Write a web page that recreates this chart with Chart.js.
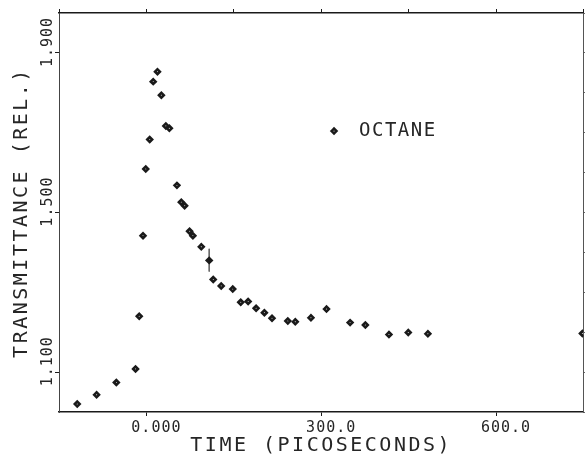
<!DOCTYPE html>
<html><head><meta charset="utf-8">
<script src="https://cdn.jsdelivr.net/npm/chart.js@4"></script>
<style>html,body{margin:0;padding:0;background:#fff;overflow:hidden;}#wrap{width:585px;height:454px;overflow:hidden;}</style>
</head><body><div id="wrap"><canvas id="c" width="590" height="454"></canvas></div>
<script>
// ---- data ----
const timePs = [-118.7, -85.5, -51.6, -18.6, -12.3, -5.8, -1.1, 5.7, 11.7, 19.0,
  25.7, 33.4, 39.4, 52.4, 59.9, 65.6, 74.1, 79.8, 94.2, 107.8,
  114.7, 128.4, 148.2, 161.9, 174.6, 188.3, 202.5, 215.6, 242.7, 255.5,
  282.4, 309.1, 349.6, 375.8, 416.3, 449.4, 483.1, 748.3];
const transmittance = [1.020, 1.043, 1.074, 1.108, 1.240, 1.442, 1.609, 1.683, 1.828, 1.853,
  1.794, 1.717, 1.711, 1.568, 1.526, 1.517, 1.453, 1.442, 1.414, 1.380,
  1.332, 1.316, 1.308, 1.275, 1.277, 1.260, 1.249, 1.235, 1.228, 1.226,
  1.236, 1.258, 1.224, 1.218, 1.194, 1.199, 1.196, 1.197];
const errorBarTime = [107.8, 107.8];
const errorBarValue = [1.409, 1.352];
const xTickValues = [0, 300, 600];
const xTickLabels = ['0.000', '300.0', '600.0'];
const yTickValues = [1.1, 1.5, 1.9];
const yTickLabels = ['1.100', '1.500', '1.900'];
const seriesName = 'OCTANE';
const xTitle = 'TIME (PICOSECONDS)';
const yTitle = 'TRANSMITTANCE (REL.)';
const legendAnchor = {x: 322, y: 1.704};

// ---- drawing ----
const FONT = '"DejaVu Sans Mono", monospace';
const INK = '#1a1a1a';
const TEXT = '#262626';
Chart.defaults.font.family = FONT;
Chart.defaults.color = TEXT;

// plotter lettering is widely spaced: letter spacing per element
const spacingPlugin = {
  id: 'spacing',
  beforeDraw(c) {
    c.ctx.letterSpacing = '1px';
    Object.values(c.scales).forEach(s => {
      if (s._spacingPatched) return;
      s._spacingPatched = true;
      const t = s.drawTitle, l = s.drawLabels;
      s.drawTitle = function () { const ctx = this.ctx; ctx.save(); ctx.letterSpacing = '2.5px'; t.apply(this, arguments); ctx.restore(); };
      s.drawLabels = function () { const ctx = this.ctx; ctx.save(); ctx.letterSpacing = '1px'; l.apply(this, arguments); ctx.restore(); };
    });
  }
};
// legend drawn inside the plot, as in the reference
const insetLegend = {
  id: 'insetLegend',
  afterDraw(c) {
    const {ctx, scales: {x, y}} = c;
    const px = x.getPixelForValue(legendAnchor.x), py = y.getPixelForValue(legendAnchor.y);
    ctx.save();
    ctx.fillStyle = '#fff'; ctx.strokeStyle = INK; ctx.lineWidth = 2.6;
    Chart.helpers.drawPoint(ctx, {pointStyle: 'rectRot', radius: 2.4, borderWidth: 2.6, rotation: 0}, px, py);
    ctx.fillStyle = TEXT; ctx.font = '19px ' + FONT; ctx.letterSpacing = '1.5px';
    ctx.textAlign = 'left'; ctx.textBaseline = 'middle';
    ctx.fillText(seriesName, px + 25, py);
    ctx.restore();
  }
};

function labelFor(values, labels, v) {
  const i = values.findIndex(t => Math.abs(t - v) < 1e-6);
  return i >= 0 ? labels[i] : null;
}

const points = timePs.map((t, i) => ({x: t, y: transmittance[i]}));
const errBar = errorBarTime.map((t, i) => ({x: t, y: errorBarValue[i]}));
const pointFill = timePs.map((t, i) => i === 19 ? INK : '#fff');

new Chart(document.getElementById('c'), {
  type: 'scatter',
  data: {
    datasets: [
      {label: seriesName, data: points, pointStyle: 'rectRot', pointRadius: 2.4, pointBorderWidth: 2.6,
       pointBackgroundColor: pointFill, pointBorderColor: INK, showLine: false},
      {label: 'err', data: errBar, showLine: true, pointRadius: 0, borderColor: '#666', borderWidth: 1}
    ]
  },
  options: {
    responsive: false, animation: false, devicePixelRatio: 1,
    layout: {padding: 0},
    plugins: {legend: {display: false}, tooltip: {enabled: false}},
    scales: {
      x: {
        type: 'linear', position: 'bottom', min: -150, max: 750,
        afterFit(s) { s.height = 42; },
        ticks: {stepSize: 150, autoSkip: false, minRotation: 0, maxRotation: 0, labelOffset: 10, padding: 3,
          font: {size: 15}, callback: v => labelFor(xTickValues, xTickLabels, v)},
        grid: {drawOnChartArea: false, tickLength: 4, color: INK},
        border: {color: INK, width: 1.5},
        title: {display: true, text: xTitle, font: {size: 20}, padding: {top: 0, bottom: -4}}
      },
      x2: {
        type: 'linear', position: 'top', min: -150, max: 750,
        afterFit(s) { s.height = 13; },
        ticks: {display: false, stepSize: 150},
        grid: {drawOnChartArea: false, tickLength: 4, color: INK},
        border: {color: INK, width: 1.5}
      },
      y: {
        type: 'linear', position: 'left', min: 1, max: 2,
        afterFit(s) { s.width = 59; },
        ticks: {stepSize: 0.1, autoSkip: false, minRotation: 90, maxRotation: 90, crossAlign: 'near',
          labelOffset: -36, padding: 7, font: {size: 15, lineHeight: 0.8},
          callback: v => labelFor(yTickValues, yTickLabels, v)},
        grid: {drawOnChartArea: false, tickLength: 4, color: INK},
        border: {color: '#444', width: 1},
        title: {display: true, text: yTitle, font: {size: 20}, padding: {top: 10, bottom: 0}}
      },
      y2: {
        type: 'linear', position: 'right', min: 1, max: 2,
        afterFit(s) { s.width = 1; },
        ticks: {display: false, stepSize: 0.1},
        grid: {drawOnChartArea: false, tickLength: 3, color: '#666'},
        border: {color: '#555', width: 1}
      }
    }
  },
  plugins: [spacingPlugin, insetLegend]
});
</script></body></html>
